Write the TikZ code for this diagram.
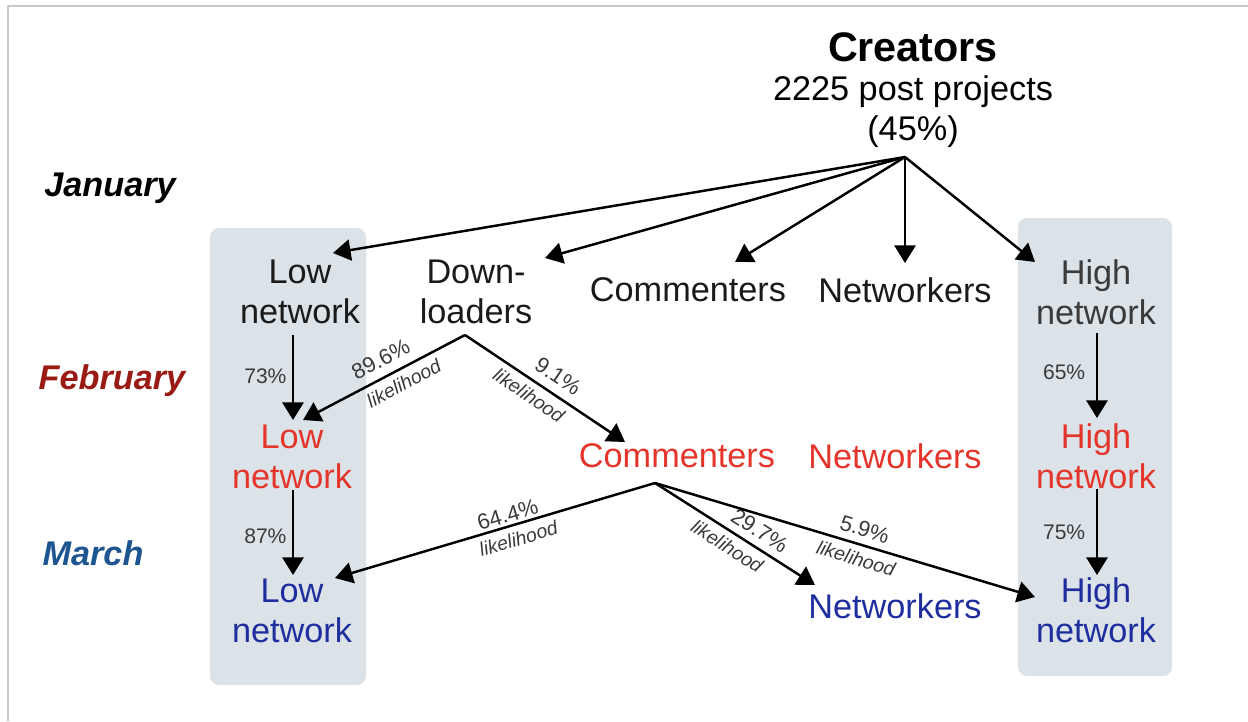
\documentclass[tikz,border=0pt]{standalone}
\usepackage{fontspec}
\setmainfont{Liberation Sans}
\usetikzlibrary{calc,arrows.meta}

\definecolor{janink}{HTML}{1A1A1A}
\definecolor{highink}{HTML}{3A3A3A}
\definecolor{febink}{HTML}{E5352B}
\definecolor{marink}{HTML}{1F2E9E}
\definecolor{febmonth}{HTML}{9A1A14}
\definecolor{marmonth}{HTML}{1D5590}
\definecolor{boxfill}{HTML}{DBE3E9}
\definecolor{pctgray}{HTML}{3A3A3A}
\definecolor{framegray}{HTML}{C8C8C8}

\begin{document}
\begin{tikzpicture}[x=0.02cm, y=-0.02cm]
    \tikzstyle{every node}=[inner sep=0, align=center]
    \tikzstyle{state}=[font=\fontsize{19.5}{22.7}\selectfont]
    \tikzstyle{month}=[font=\fontsize{19.5}{22}\selectfont\bfseries\itshape]
    \tikzstyle{arr}=[line width=1.4pt, -{Triangle[length=10pt,width=12pt]}]
    \tikzstyle{pct}=[font=\fontsize{12.5}{14}\selectfont, text=pctgray, sloped, above, inner sep=4pt]
    \tikzstyle{lik}=[font=\fontsize{11}{12}\selectfont\itshape, text=pctgray, sloped, below, inner sep=3.5pt]
    \tikzstyle{vpct}=[font=\fontsize{12}{14}\selectfont, text=pctgray, left, inner sep=3pt]
    \useasboundingbox (0,0) rectangle (1248,721);
    % frame and the two grey columns
    \draw[framegray, line width=0.8pt] (8,721) -- (8,6) -- (1248,6);
    \fill[boxfill, rounded corners=5pt] (210,228) rectangle (366,685);
    \fill[boxfill, rounded corners=5pt] (1018,218) rectangle (1172,676);
    % creators
    \node[font=\fontsize{23.5}{26}\selectfont\bfseries] (creators) at (913,47) {Creators};
    \node[state] (posts) at (913,112) {2225 post projects\\(45\%)};
    \coordinate (hub) at (905,157);
    % months
    \node[month, text=black] (jan) at (110,188) {January};
    \node[month, text=febmonth] (feb) at (112,381) {February};
    \node[month, text=marmonth] (mar) at (93,553) {March};
    % January
    \node[state, text=janink] (lowjan) at (300,292) {Low\\network};
    \node[state, text=janink] (downjan) at (476,292) {Down-\\loaders};
    \node[state, text=janink] (comjan) at (688,290) {Commenters};
    \node[state, text=janink] (netjan) at (905,290) {Networkers};
    \node[state, text=highink] (highjan) at (1096,292) {High\\network};
    % February
    \node[state, text=febink] (lowfeb) at (292,457) {Low\\network};
    \node[state, text=febink] (comfeb) at (677,456) {Commenters};
    \node[state, text=febink] (netfeb) at (895,456) {Networkers};
    \node[state, text=febink] (highfeb) at (1096,456) {High\\network};
    % March
    \node[state, text=marink] (lowmar) at (292,611) {Low\\network};
    \node[state, text=marink] (netmar) at (895,606) {Networkers};
    \node[state, text=marink] (highmar) at (1096,610) {High\\network};
    % from the creators
    \draw[arr] (hub) -- ($(lowjan)+(33,-39)$);
    \draw[arr] (hub) -- ($(downjan)+(69,-34)$);
    \draw[arr] (hub) -- ($(comjan)+(47,-28)$);
    \draw[arr] (hub) -- ($(netjan)+(0,-27)$);
    \draw[arr] (hub) -- ($(highjan)+(-61,-30)$);
    % staying in a column
    \draw[arr] ($(lowjan)+(-7,43)$) -- node[vpct, pos=0.48] {73\%} ($(lowfeb)+(1,-37)$);
    \draw[arr] ($(lowfeb)+(1,33)$) -- node[vpct, pos=0.54] {87\%} ($(lowmar)+(1,-36)$);
    \draw[arr] ($(highjan)+(1,41)$) -- node[vpct, pos=0.46, inner sep=6pt] {65\%} ($(highfeb)+(1,-38)$);
    \draw[arr] ($(highfeb)+(1,33)$) -- node[vpct, pos=0.5, inner sep=6pt] {75\%} ($(highmar)+(1,-35)$);
    % downloaders in February
    \draw[arr] ($(downjan)+(-11,43)$) -- node[pct, pos=0.47, inner sep=5pt] {89.6\%} node[lik, pos=0.42] {likelihood} ($(lowfeb)+(11,-37)$);
    \draw[arr] ($(downjan)+(-11,43)$) -- node[pct, pos=0.52, inner sep=5pt] {9.1\%} node[lik, pos=0.45] {likelihood} ($(comfeb)+(-52,-14)$);
    % commenters in March
    \draw[arr] ($(comfeb)+(-22,27)$) -- node[pct, pos=0.45, inner sep=1.5pt] {64.4\%} node[lik, pos=0.44] {likelihood} ($(lowmar)+(43,-33)$);
    \draw[arr] ($(comfeb)+(-22,27)$) -- node[pct, pos=0.6] {29.7\%} node[lik, pos=0.5] {likelihood} ($(netmar)+(-80,-21)$);
    \draw[arr] ($(comfeb)+(-22,27)$) -- node[pct, pos=0.54] {5.9\%} node[lik, pos=0.54] {likelihood} ($(highmar)+(-61,-13)$);
\end{tikzpicture}
\end{document}
